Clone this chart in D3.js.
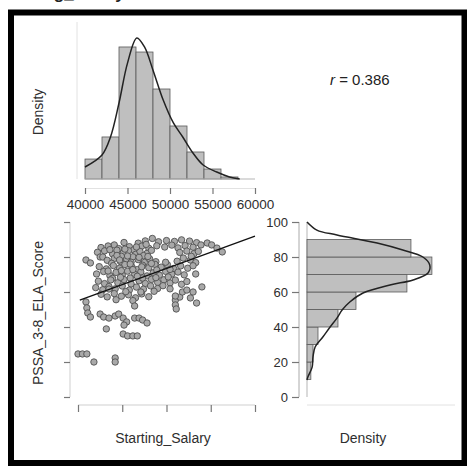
<!DOCTYPE html>
<html>
<head>
<meta charset="utf-8">
<script src="https://cdn.jsdelivr.net/npm/d3@7"></script>
<style>
  body { margin: 0; background: #fff; }
  svg { display: block; font-family: 'Liberation Sans', Arial, sans-serif; }
</style>
</head>
<body>
<div id="visualization"></div>
<script>
// salary histogram (bin start, density x 1e-5)
const salaryBins = [40000, 42000, 44000, 46000, 48000, 50000, 52000, 54000, 56000];
const salaryDensity = [1.98, 4.17, 13.1, 12.6, 8.93, 5.26, 2.68, 0.99, 0.2];
const salaryTicks = [40000, 45000, 50000, 55000, 60000];
// salary density curve [salary, density x 1e-5]
const salaryCurve = [
  [40000, 1.19], [42000, 2.38], [43000, 4.17], [44000, 7.54], [45000, 11.5],
  [46100, 14.0], [47000, 13.1], [48000, 10.8], [49200, 7.84], [50400, 5.56],
  [51500, 4.17], [52700, 2.58], [53900, 1.39], [55500, 0.69], [57000, 0.2], [58200, 0],
];

// score histogram (bin start, density x 1e-3)
const scoreBins = [10, 20, 30, 40, 50, 60, 70, 80];
const scoreDensity = [0.9, 1.4, 2.57, 7.24, 11.45, 23.36, 29.2, 24.3];
const scoreTicks = [0, 20, 40, 60, 80, 100];
// score density curve [score, density x 1e-3]
const scoreCurve = [
  [100, 0], [95.4, 2.3], [92.6, 7.0], [88.0, 16.4], [84.0, 22.4], [80.0, 27.1],
  [75.4, 28.7], [70.9, 28.3], [66.9, 24.8], [64.0, 19.4], [59.4, 13.1], [54.3, 10.0],
  [49.7, 8.2], [45.1, 7.0], [40.0, 5.4], [34.3, 3.7], [28.6, 1.9], [22.9, 1.4],
  [17.1, 1.2], [11.4, 0.2], [9.7, 0],
];

// [Starting_Salary, PSSA_3-8_ELA_Score]
const points = [
  [45200, 88.3], [46800, 87.9], [48400, 90.6], [49100, 88.7], [50000, 89.4], [50900, 88.9],
  [51700, 89.8], [52600, 89.1], [53400, 88.2], [47600, 89.2], [44100, 86.9],
  [42600, 85.4], [43400, 86.3], [44600, 84.8], [45800, 85.9], [46300, 84.1], [47200, 86.2],
  [48000, 85.0], [48900, 86.4], [49800, 85.7], [50600, 86.8], [51300, 85.2], [52100, 86.5],
  [53000, 85.6], [53900, 86.9], [54600, 88.0], [55100, 86.9], [55700, 85.1], [56300, 82.9],
  [42200, 82.7], [43000, 83.5], [43900, 81.8], [44400, 83.9], [45100, 82.2], [45700, 83.6],
  [46500, 81.5], [47000, 83.2], [47800, 82.1], [48300, 83.8], [51500, 82.6], [52300, 83.4],
  [53100, 81.9], [53600, 83.2], [44900, 80.4], [46200, 80.1], [47400, 80.8],
  [40900, 78.3], [41400, 76.6], [42500, 80.0], [42800, 80.0],
  [43300, 78.1], [44100, 79.2], [44800, 77.4], [45500, 78.8], [46000, 77.0], [46800, 78.5],
  [47500, 76.9], [48100, 78.9], [48800, 77.3], [51200, 77.6], [51900, 79.4], [52700, 78.3],
  [53300, 76.8], [43800, 76.4],
  [42400, 74.5], [43200, 73.2], [44000, 75.1], [44700, 73.6], [45300, 75.7], [46100, 74.3],
  [46700, 72.8], [47300, 75.3], [48000, 73.9], [48700, 75.8], [49400, 74.2], [50100, 75.6],
  [50800, 73.4], [51600, 74.9], [52400, 73.6], [53000, 75.0], [49900, 77.0],
  [42100, 70.3], [42900, 71.7], [43600, 69.4], [44300, 71.2], [45000, 69.8], [45600, 71.9],
  [46400, 70.1], [47100, 71.5], [47800, 69.2], [48500, 71.0], [49200, 69.6], [49900, 71.8],
  [50600, 70.2], [51300, 71.4], [52000, 69.8], [43900, 67.8], [45900, 68.0],
  [42300, 66.2], [43000, 64.8], [43700, 66.9], [44500, 65.3], [45200, 67.1], [46000, 64.6],
  [46900, 66.4], [47600, 64.9], [48300, 67.2], [49000, 65.5], [49700, 67.0], [50400, 65.2],
  [51000, 66.8], [47300, 68.0],
  [42000, 62.5], [42800, 61.3], [43500, 63.1], [44200, 61.8], [45000, 63.4], [45800, 61.1],
  [46600, 62.8], [47400, 61.6], [48200, 63.5], [49000, 62.0], [48600, 60.4],
  [42600, 58.7], [43300, 57.2], [44100, 59.1], [44900, 57.6], [45700, 58.4], [46500, 56.7],
  [47200, 58.9], [48000, 57.3], [46200, 55.1], [46400, 52.0], [44300, 55.6],
  [44400, 80.9], [45600, 80.6], [46900, 79.8], [47900, 80.3], [43600, 84.2], [45300, 84.5],
  [46600, 85.7], [47700, 87.2], [52800, 80.4], [44700, 78.3], [45900, 76.0], [47200, 74.4],
  [48300, 76.3], [43400, 72.0], [44900, 72.2], [46200, 72.8], [48900, 72.6], [50400, 72.9],
  [44800, 68.4], [46700, 69.0], [48800, 68.2], [50200, 68.6], [43500, 61.7], [45400, 60.2],
  [47100, 60.0], [49600, 63.6], [50400, 61.8], [51700, 64.4], [52300, 66.0], [53300, 70.3],
  [51000, 55.4], [51000, 52.6], [51100, 50.3], [51500, 57.1], [51800, 60.0], [52300, 61.1],
  [53000, 60.0], [54000, 62.9], [52700, 56.6], [53400, 53.7], [51000, 57.7],
  [40900, 54.3], [41000, 50.9], [41100, 48.0], [41400, 45.7],
  [42500, 47.4], [42900, 45.7], [43500, 45.1], [44200, 46.3], [44600, 47.4], [45100, 45.1],
  [45500, 42.9], [45200, 41.1], [46400, 45.1], [46900, 45.1], [47300, 44.0], [47800, 42.3],
  [43200, 38.9], [45100, 36.0], [45600, 34.9], [46200, 34.9], [46700, 34.9],
  [40000, 24.6], [40500, 24.6], [41000, 24.6], [41800, 20.0], [44200, 22.3], [44200, 20.0],
];

// fitted line: score = intercept + slope * salary
const regression = { intercept: -18.9, slope: 0.001848, from: 40200, to: 60000 };
const correlation = '0.386';

const W = 467;
const H = 467;
const font = "'Liberation Sans', Arial, sans-serif";

const svg = d3.select('#visualization')
  .append('svg')
  .attr('width', W)
  .attr('height', H);

svg.append('rect').attr('width', W).attr('height', H).attr('fill', '#fff');

// title of the page, cut off by the top edge as in the source image
svg.append('text')
  .attr('x', 0)
  .attr('y', -1)
  .style('font-size', '17px')
  .style('font-weight', 'bold')
  .attr('fill', '#222')
  .text('Starting_Salary');

// scales
const xTop = d3.scaleLinear().domain([40000, 60000]).range([85, 255]);
const yTop = d3.scaleLinear().domain([0, 15.5]).range([179, 22.8]);
const xScatter = d3.scaleLinear().domain([40000, 60000]).range([78, 255]);
const yScore = d3.scaleLinear().domain([0, 100]).range([397, 222]);
const xRight = d3.scaleLinear().domain([0, 34.6]).range([307, 455]);

const barFill = '#bfbfbf';
const barStroke = '#5a5a5a';
const axisGrey = '#cfcfcf';
const tickColor = '#777';
const textColor = '#2e2e2e';

// ---- top histogram ----
const topPanel = svg.append('g');

topPanel.append('line')
  .attr('x1', 77).attr('x2', 77)
  .attr('y1', 22).attr('y2', 179)
  .attr('stroke', '#e2e2e2');

topPanel.selectAll('.bar')
  .data(salaryBins)
  .enter()
  .append('rect')
  .attr('class', 'bar')
  .attr('x', (d) => xTop(d))
  .attr('y', (d, i) => yTop(salaryDensity[i]))
  .attr('width', (d) => xTop(d + 2000) - xTop(d))
  .attr('height', (d, i) => yTop(0) - yTop(salaryDensity[i]))
  .attr('fill', barFill)
  .attr('stroke', barStroke)
  .attr('stroke-width', 0.8);

topPanel.append('line')
  .attr('x1', xTop(40000)).attr('x2', xTop(60000))
  .attr('y1', yTop(0)).attr('y2', yTop(0))
  .attr('stroke', '#b5b5b5');

topPanel.append('path')
  .datum(salaryCurve)
  .attr('d', d3.line()
    .x((d) => xTop(d[0]))
    .y((d) => yTop(d[1]))
    .curve(d3.curveCatmullRom))
  .attr('fill', 'none')
  .attr('stroke', '#222')
  .attr('stroke-width', 1.5);

const topAxis = topPanel.append('g')
  .attr('transform', 'translate(0,188)')
  .call(d3.axisBottom(xTop).tickValues(salaryTicks).tickSize(6).tickPadding(5).tickFormat(d3.format('d')));
topAxis.select('.domain').attr('stroke', '#e2e2e2');
topAxis.selectAll('.tick line').attr('stroke', tickColor).attr('stroke-width', 1.2);
topAxis.selectAll('.tick text')
  .attr('fill', textColor)
  .style('font-size', '13.5px')
  .style('font-family', font);

topPanel.append('text')
  .attr('transform', 'translate(43,112) rotate(-90)')
  .attr('text-anchor', 'middle')
  .attr('fill', textColor)
  .style('font-size', '14px')
  .text('Density');

// correlation label
const rText = svg.append('text')
  .attr('x', 330)
  .attr('y', 85)
  .attr('fill', '#222')
  .style('font-size', '15px');
rText.append('tspan').style('font-style', 'italic').text('r');
rText.append('tspan').text(` = ${correlation}`);

// ---- scatter ----
const sc = svg.append('g');

const scY = sc.append('g')
  .attr('transform', 'translate(70,0)')
  .call(d3.axisLeft(yScore).tickValues(scoreTicks).tickSize(6).tickFormat(''));
scY.select('.domain').attr('stroke', axisGrey).attr('d', 'M0,222V397');
scY.selectAll('.tick line').attr('stroke', tickColor).attr('stroke-width', 1.2);

const scX = sc.append('g')
  .attr('transform', 'translate(0,405)')
  .call(d3.axisBottom(xScatter).tickValues(salaryTicks).tickSize(7).tickFormat(''));
scX.select('.domain').attr('stroke', axisGrey).attr('d', 'M78,0H255');
scX.selectAll('.tick line').attr('stroke', tickColor).attr('stroke-width', 1.2);

sc.selectAll('.pt')
  .data(points)
  .enter()
  .append('circle')
  .attr('class', 'pt')
  .attr('cx', (d) => xScatter(d[0]))
  .attr('cy', (d) => yScore(d[1]))
  .attr('r', 3.2)
  .attr('fill', '#a9a9a9')
  .attr('stroke', '#505050')
  .attr('stroke-width', 0.9);

sc.append('line')
  .attr('x1', xScatter(regression.from))
  .attr('y1', yScore(regression.intercept + regression.slope * regression.from))
  .attr('x2', xScatter(regression.to))
  .attr('y2', yScore(regression.intercept + regression.slope * regression.to))
  .attr('stroke', '#111')
  .attr('stroke-width', 1.3);

sc.append('text')
  .attr('x', 163)
  .attr('y', 443)
  .attr('text-anchor', 'middle')
  .attr('fill', textColor)
  .style('font-size', '14px')
  .text('Starting_Salary');

sc.append('text')
  .attr('transform', 'translate(43,313) rotate(-90)')
  .attr('text-anchor', 'middle')
  .attr('fill', textColor)
  .style('font-size', '14px')
  .text('PSSA_3-8_ELA_Score');

// ---- right histogram ----
const rightPanel = svg.append('g');

const rAxis = rightPanel.append('g')
  .attr('transform', 'translate(299,0)')
  .call(d3.axisLeft(yScore).tickValues(scoreTicks).tickSize(7).tickPadding(4));
rAxis.select('.domain').attr('stroke', '#aaa').attr('d', 'M0,222V397');
rAxis.selectAll('.tick line').attr('stroke', tickColor).attr('stroke-width', 1.2);
rAxis.selectAll('.tick text')
  .attr('fill', textColor)
  .style('font-size', '13px')
  .style('font-family', font);

rightPanel.append('line')
  .attr('x1', 307).attr('x2', 307)
  .attr('y1', yScore(100)).attr('y2', yScore(0))
  .attr('stroke', '#b5b5b5');

rightPanel.selectAll('.hbar')
  .data(scoreBins)
  .enter()
  .append('rect')
  .attr('class', 'hbar')
  .attr('x', xRight(0))
  .attr('y', (d) => yScore(d + 10))
  .attr('width', (d, i) => xRight(scoreDensity[i]) - xRight(0))
  .attr('height', (d) => yScore(d) - yScore(d + 10))
  .attr('fill', barFill)
  .attr('stroke', barStroke)
  .attr('stroke-width', 0.8);

rightPanel.append('path')
  .datum(scoreCurve)
  .attr('d', d3.line()
    .x((d) => xRight(d[1]))
    .y((d) => yScore(d[0]))
    .curve(d3.curveCatmullRom))
  .attr('fill', 'none')
  .attr('stroke', '#222')
  .attr('stroke-width', 1.5);

rightPanel.append('line')
  .attr('x1', 307).attr('x2', 455)
  .attr('y1', 405).attr('y2', 405)
  .attr('stroke', '#e2e2e2');

rightPanel.append('text')
  .attr('x', 363)
  .attr('y', 443)
  .attr('text-anchor', 'middle')
  .attr('fill', textColor)
  .style('font-size', '14px')
  .text('Density');

// frame
svg.append('rect')
  .attr('x', 11)
  .attr('y', 12.5)
  .attr('width', 453.5)
  .attr('height', 450.5)
  .attr('fill', 'none')
  .attr('stroke', '#000')
  .attr('stroke-width', 6);
</script>
</body>
</html>
